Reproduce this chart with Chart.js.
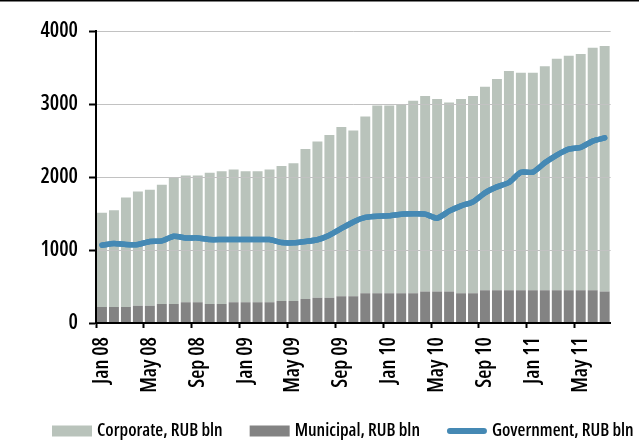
<!DOCTYPE html>
<html>
<head>
<meta charset="utf-8">
<script src="https://cdn.jsdelivr.net/npm/chart.js@4.4.1/dist/chart.umd.min.js"></script>
<style>
  html, body { margin: 0; padding: 0; background: #ffffff; }
  canvas { display: block; }
</style>
</head>
<body>
<canvas id="c" width="639" height="440"></canvas>
<script>
// ---- data ----
const categories = [
  'Jan 08','Feb 08','Mar 08','Apr 08','May 08','Jun 08','Jul 08','Aug 08','Sep 08','Oct 08','Nov 08','Dec 08',
  'Jan 09','Feb 09','Mar 09','Apr 09','May 09','Jun 09','Jul 09','Aug 09','Sep 09','Oct 09','Nov 09','Dec 09',
  'Jan 10','Feb 10','Mar 10','Apr 10','May 10','Jun 10','Jul 10','Aug 10','Sep 10','Oct 10','Nov 10','Dec 10',
  'Jan 11','Feb 11','Mar 11','Apr 11','May 11','Jun 11','Jul 11'
];
const municipal = [
  220,220,220,238,238,261,261,284,284,261,261,284,
  284,284,284,302,302,329,345,345,366,366,407,407,
  407,407,407,430,430,430,407,407,448,448,448,448,
  448,448,448,448,448,448,430
];
const corporate = [
  1290,1325,1500,1564,1586,1632,1737,1737,1737,1796,1819,1819,
  1796,1796,1819,1847,1888,2053,2142,2229,2318,2272,2423,2574,
  2574,2592,2637,2679,2637,2592,2660,2702,2788,2894,3003,2980,
  2980,3068,3172,3213,3236,3323,3364
];
const government = [
  1066,1089,1075,1075,1116,1125,1189,1166,1166,1143,1143,1143,
  1143,1143,1143,1102,1098,1116,1140,1203,1295,1385,1446,1463,
  1468,1491,1495,1491,1436,1532,1605,1660,1783,1865,1925,2066,
  2066,2194,2300,2382,2405,2492,2537
];
const yTicks = [0, 1000, 2000, 3000, 4000];
const seriesNames = ['Municipal, RUB bln', 'Corporate, RUB bln', 'Government, RUB bln'];
const legendOrder = [1, 0, 2];

const COL_MUNI = '#838383';
const COL_CORP = '#b9c3bb';
const COL_GOV = '#4589b4';
const FAMILY = "'Open Sans', sans-serif";
const TICK_FONT = { family: FAMILY, size: 21, weight: '600 semi-condensed' };
const LEGEND_FONT = "600 condensed 18px 'Open Sans', sans-serif";

// thin black rule along the top of the picture
const topRule = {
  id: 'topRule',
  beforeDraw(chart) {
    const ctx = chart.ctx;
    ctx.save();
    ctx.fillStyle = '#000';
    ctx.fillRect(0, 0, chart.width, 1.5);
    ctx.restore();
  }
};

// draw the government line above the (over-bar) grid lines
const redrawLine = {
  id: 'redrawLine',
  afterDraw(chart) {
    const meta = chart.getDatasetMeta(2);
    const ctx = chart.ctx;
    ctx.save();
    meta.controller.draw();
    ctx.restore();
  }
};

// legend row at the bottom
const bottomLegend = {
  id: 'bottomLegend',
  afterDraw(chart) {
    const ctx = chart.ctx;
    ctx.save();
    ctx.font = LEGEND_FONT;
    ctx.textBaseline = 'middle';
    ctx.textAlign = 'left';
    const items = legendOrder.map(i => chart.data.datasets[i]);
    const boxW = 40, gap = 5, itemGap = 27;
    const widths = items.map(d => boxW + gap + ctx.measureText(d.label).width);
    const total = widths.reduce((a, b) => a + b, 0) + itemGap * (items.length - 1);
    let x = Math.min(52, chart.width - 3 - total);
    const cy = 431;
    items.forEach((d, k) => {
      if (d.type === 'line') {
        ctx.strokeStyle = d.borderColor;
        ctx.lineWidth = 6;
        ctx.lineCap = 'round';
        ctx.beginPath();
        ctx.moveTo(x + 3, cy);
        ctx.lineTo(x + boxW - 3, cy);
        ctx.stroke();
      } else {
        ctx.fillStyle = d.backgroundColor;
        ctx.fillRect(x, cy - 5.5, boxW, 11);
      }
      ctx.fillStyle = '#000';
      ctx.fillText(d.label, x + boxW + gap, cy);
      x += widths[k] + itemGap;
    });
    ctx.restore();
  }
};

new Chart(document.getElementById('c'), {
  type: 'bar',
  data: {
    labels: categories,
    datasets: [
      { label: seriesNames[0], data: municipal, backgroundColor: COL_MUNI, stack: 'bars',
        barPercentage: 0.83, categoryPercentage: 1.0, order: 1 },
      { label: seriesNames[1], data: corporate, backgroundColor: COL_CORP, stack: 'bars',
        barPercentage: 0.83, categoryPercentage: 1.0, order: 2 },
      { type: 'line', label: seriesNames[2], data: government, borderColor: COL_GOV,
        backgroundColor: COL_GOV, borderWidth: 5.5, pointRadius: 0, tension: 0.2,
        borderCapStyle: 'round', borderJoinStyle: 'round', stack: 'gov', order: 0, fill: false }
    ]
  },
  options: {
    responsive: false,
    animation: false,
    events: [],
    layout: { padding: { left: 0, right: 12, top: 31, bottom: 42 } },
    plugins: {
      tooltip: { enabled: false },
      legend: { display: false }
    },
    scales: {
      x: {
        stacked: true,
        offset: true,
        afterFit: (scale) => { scale.height = 75; },
        grid: {
          offset: true,
          drawOnChartArea: false,
          drawTicks: true,
          tickLength: 5,
          tickWidth: 2,
          tickColor: (ctx) => (ctx.index % 4 === 0 ? '#000' : 'rgba(0,0,0,0)')
        },
        border: { display: true, color: '#000', width: 2, z: 2 },
        ticks: {
          autoSkip: false,
          minRotation: 90,
          maxRotation: 90,
          padding: 9,
          color: '#000',
          font: TICK_FONT,
          callback: function (v, i) { return i % 4 === 0 ? categories[i] : ''; }
        }
      },
      y: {
        stacked: true,
        min: 0,
        max: 4000,
        afterFit: (scale) => { scale.width = 96; },
        afterBuildTicks: (axis) => { axis.ticks = yTicks.map(v => ({ value: v })); },
        grid: {
          z: 1,
          color: (ctx) => (ctx.tick && ctx.tick.value === 0 ? 'rgba(0,0,0,0)' : '#c2c2c2'),
          lineWidth: 1,
          borderDash: [4, 3],
          drawTicks: true,
          tickLength: 7,
          tickWidth: 2,
          tickColor: '#000',
          tickBorderDash: []
        },
        border: { display: true, color: '#000', width: 2, z: 2 },
        ticks: {
          padding: 11,
          color: '#000',
          font: TICK_FONT,
          callback: (v) => String(v)
        }
      }
    }
  },
  plugins: [topRule, redrawLine, bottomLegend]
});
</script>
</body>
</html>
